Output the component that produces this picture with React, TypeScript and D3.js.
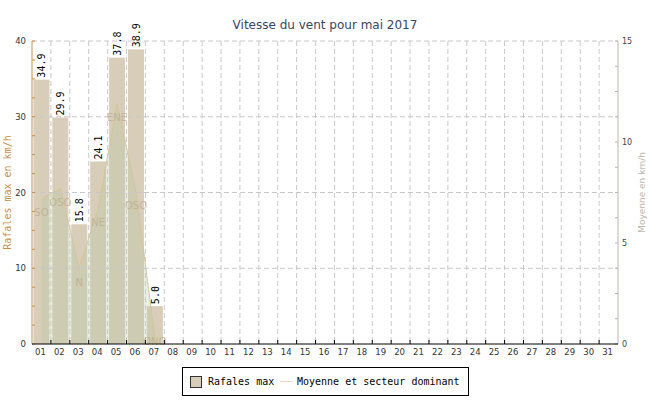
import React from "react";
import * as d3 from "d3";

const days = Array.from({ length: 31 }, (_, i) => String(i + 1).padStart(2, "0"));
const gustDays = ["01", "02", "03", "04", "05", "06", "07"];
const gustValues = [34.9, 29.9, 15.8, 24.1, 37.8, 38.9, 5.0];
const avgValues = [7.2, 7.7, 3.75, 6.7, 11.9, 7.55, 0.3];
const sectors = ["SO", "OSO", "N", "NE", "ENE", "OSO", "ONO"];
const leftTicks = [0, 10, 20, 30, 40];
const rightTicks = [0, 5, 10, 15];

const W = 650, H = 400;
const L = 32, R = 618, T = 41, B = 344;

export default function App() {
  const x = d3.scaleBand<string>().domain(days).range([L, R]).padding(0);
  const bw = x.bandwidth();
  const yL = d3.scaleLinear().domain([0, 40]).range([B, T]);
  const yR = d3.scaleLinear().domain([0, 15]).range([B, T]);
  const cx = (d: string) => (x(d) as number) + bw / 2;

  const pts = gustDays.map((d, i) => ({ d, v: avgValues[i], s: sectors[i] }));
  const area = d3.area<any>().x((p) => cx(p.d)).y0(B).y1((p) => yR(p.v));
  const line = d3.line<any>().x((p) => cx(p.d)).y((p) => yR(p.v));

  const leftMinor = d3.range(0, 40.01, 2.5);
  const rightMinor = d3.range(0, 15.01, 1.25);
  const mono = "'DejaVu Sans Mono', monospace";
  const sans = "'DejaVu Sans', sans-serif";
  const leftColor = "#c8904a";
  const rightColor = "#bdb6aa";
  const barColor = "#d8cdb9";

  return (
    <svg width={W} height={H} style={{ position: "absolute", left: 0, top: 0, background: "#fff" }}>
      <rect x={0} y={0} width={W} height={H} fill="#fff" />
      <text x={325} y={29} textAnchor="middle" fontFamily={sans} fontSize={12} fill="#3a4360">
        Vitesse du vent pour mai 2017
      </text>

      {/* bars */}
      {gustDays.map((d, i) => (
        <rect key={d} x={cx(d) - 8} y={yL(gustValues[i])} width={16} height={B - yL(gustValues[i])} fill={barColor} />
      ))}

      {/* average area + line */}
      <path d={area(pts) as string} fill="rgba(180,200,160,0.3)" />
      <path d={line(pts) as string} fill="none" stroke="#d6c59c" strokeWidth={1} />

      {/* grid */}
      {leftTicks.filter((t) => t > 0).map((t) => (
        <line key={"h" + t} x1={L} x2={R} y1={yL(t)} y2={yL(t)} stroke="#c8c8c8" strokeDasharray="5,3" />
      ))}
      {days.slice(1).map((d) => (
        <line key={"v" + d} x1={(x(d) as number)} x2={(x(d) as number)} y1={T} y2={B} stroke="#c8c8c8" strokeDasharray="5,3" />
      ))}

      {/* sector labels */}
      {pts.map((p, i) => (
        <text key={"s" + i} x={cx(p.d)} y={Math.min(yR(p.v) + 14, 341) + 3.5} textAnchor="middle"
          fontFamily={sans} fontSize={10} fill="rgba(185,165,130,0.65)">
          {p.s}
        </text>
      ))}

      {/* bar value labels */}
      {gustDays.map((d, i) => (
        <text key={"g" + d} transform={`translate(${cx(d) + 4},${yL(gustValues[i]) - 2}) rotate(-90)`}
          fontFamily={mono} fontSize={10} fill="#000">
          {gustValues[i].toFixed(1)}
        </text>
      ))}

      {/* left axis */}
      <line x1={L} x2={L} y1={T} y2={B} stroke={leftColor} />
      {leftMinor.map((t) => (
        <line key={"lt" + t} x1={L} x2={L + 3} y1={yL(t)} y2={yL(t)} stroke={leftColor} />
      ))}
      {leftTicks.map((t) => (
        <text key={"ll" + t} x={26} y={yL(t) + 3} textAnchor="end" fontFamily={sans} fontSize={8.5} fill="#333">
          {t}
        </text>
      ))}
      <text transform={`translate(11,${(T + B) / 2}) rotate(-90)`} textAnchor="middle" fontFamily={mono}
        fontSize={10} fill={leftColor}>
        Rafales max en km/h
      </text>

      {/* right axis */}
      <line x1={R} x2={R} y1={T} y2={B} stroke={rightColor} />
      {rightMinor.map((t) => (
        <line key={"rt" + t} x1={R - 3} x2={R} y1={yR(t)} y2={yR(t)} stroke={rightColor} />
      ))}
      {rightTicks.map((t) => (
        <text key={"rl" + t} x={622} y={yR(t) + 3} textAnchor="start" fontFamily={sans} fontSize={8} fill="#444">
          {t}
        </text>
      ))}
      <text transform={`translate(645,${(T + B) / 2}) rotate(-90)`} textAnchor="middle" fontFamily={sans}
        fontSize={9} fill={rightColor}>
        Moyenne en km/h
      </text>

      {/* bottom axis */}
      <line x1={L} x2={R} y1={B} y2={B} stroke="#000" />
      {days.slice(1).map((d) => (
        <line key={"bt" + d} x1={x(d) as number} x2={x(d) as number} y1={B - 4} y2={B} stroke="#000" />
      ))}
      {days.map((d) => (
        <text key={"bl" + d} x={cx(d) - 1} y={355} textAnchor="middle" fontFamily={sans} fontSize={8.5} fill="#333">
          {d}
        </text>
      ))}

      {/* legend */}
      <rect x={182.5} y={367.5} width={286} height={28} fill="#fff" stroke="#000" />
      <rect x={190.5} y={376.5} width={11} height={11} fill={barColor} stroke="#333" />
      <text x={208} y={385} fontFamily={mono} fontSize={10} fill="#000">Rafales max</text>
      <line x1={280} x2={293} y1={381.5} y2={381.5} stroke="#e8dcc4" />
      <text x={297} y={385} fontFamily={mono} fontSize={10} fill="#000">Moyenne et secteur dominant</text>
    </svg>
  );
}
